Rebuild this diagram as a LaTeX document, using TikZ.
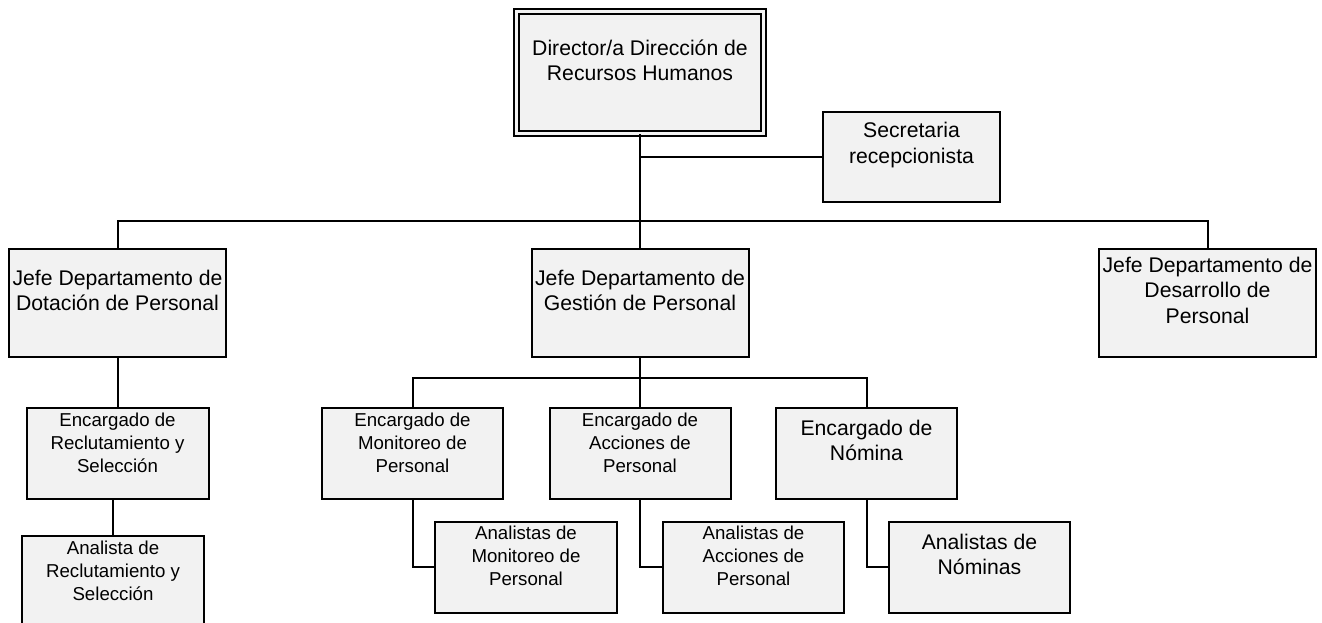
\documentclass[tikz,border=0pt]{standalone}
\usepackage{fontspec}
\setmainfont{Liberation Sans}
\definecolor{boxfill}{RGB}{242,242,242}
\newcommand{\bigtxt}{\fontsize{15.9}{19.1}\selectfont}
\newcommand{\smalltxt}{\fontsize{14}{17.25}\selectfont}
\tikzset{
  box/.style 2 args={draw=black, line width=1.5pt, fill=boxfill, inner sep=0pt,
    minimum width=#1*0.75pt, minimum height=#2*0.75pt},
  big/.style={align=center, font=\bigtxt, inner sep=0pt},
  small/.style={align=center, font=\smalltxt, inner sep=0pt},
  conn/.style={draw=black, line width=1.5pt}
}
\begin{document}
\begin{tikzpicture}[x=0.75pt, y=-0.75pt]
\clip (0,0) rectangle (1322,623);
\fill[white] (0,0) rectangle (1322,623);
% boxes
\node[box={247}{122}, line width=1.4pt, double=boxfill, double distance=2.3pt] (dir) at (640,72.5) {};
\node[box={177}{90}] (sec) at (911.5,157) {};
\node[box={217}{108}] (jdot) at (117.5,303) {};
\node[box={217}{108}] (jges) at (640,303) {};
\node[box={217}{108}] (jdes) at (1207.5,303) {};
\node[box={182}{91}] (erec) at (117.5,453.5) {};
\node[box={182}{91}] (arec) at (113,581.5) {};
\node[box={181}{91}] (emon) at (412.5,453.5) {};
\node[box={181}{91}] (eacc) at (640,453.5) {};
\node[box={181}{91}] (enom) at (866.5,453.5) {};
\node[box={182}{91}] (amon) at (526,567.5) {};
\node[box={181}{91}] (aacc) at (753.5,567.5) {};
\node[box={181}{91}] (anom) at (979.5,567.5) {};
% texts
\node[big] (dir-t) at ([yshift=9pt]dir.center) {Director/a Dirección de\\Recursos Humanos};
\node[big] (sec-t) at ([yshift=9pt]sec.center) {Secretaria\\recepcionista};
\node[big] (jdot-t) at ([yshift=9.5pt]jdot.center) {Jefe Departamento de\\Dotación de Personal};
\node[big] (jges-t) at ([yshift=9.5pt]jges.center) {Jefe Departamento de\\Gestión de Personal};
\node[big] (jdes-t) at ([yshift=9.5pt]jdes.center) {Jefe Departamento de\\Desarrollo de\\Personal};
\node[small] (erec-t) at ([yshift=8pt]erec.center) {Encargado de\\Reclutamiento y\\Selección};
\node[small] (arec-t) at ([yshift=8pt]arec.center) {Analista de\\Reclutamiento y\\Selección};
\node[small] (emon-t) at ([yshift=8pt]emon.center) {Encargado de\\Monitoreo de\\Personal};
\node[small] (eacc-t) at ([yshift=8pt]eacc.center) {Encargado de\\Acciones de\\Personal};
\node[big] (enom-t) at ([yshift=10pt]enom.center) {Encargado de\\Nómina};
\node[small] (amon-t) at ([yshift=8.5pt]amon.center) {Analistas de\\Monitoreo de\\Personal};
\node[small] (aacc-t) at ([yshift=8.5pt]aacc.center) {Analistas de\\Acciones de\\Personal};
\node[big] (anom-t) at ([yshift=10pt]anom.center) {Analistas de\\Nóminas};
% connectors
\draw[conn] (dir.south) -- (jges.north);
\draw[conn] (sec.west) -- (sec.west -| dir.south);
\draw[conn] (jdot.north) -- ++(0,-27) -| (jdes.north);
\draw[conn] (jdot.south) -- (erec.north);
\draw[conn] (arec.north) -- (arec.north |- erec.south);
\draw[conn] (jges.south) -- (eacc.north);
\draw[conn] (emon.north) -- ++(0,-29) -| (enom.north);
\draw[conn] (emon.south) |- (amon.west);
\draw[conn] (eacc.south) |- (aacc.west);
\draw[conn] (enom.south) |- (anom.west);
\end{tikzpicture}
\end{document}
